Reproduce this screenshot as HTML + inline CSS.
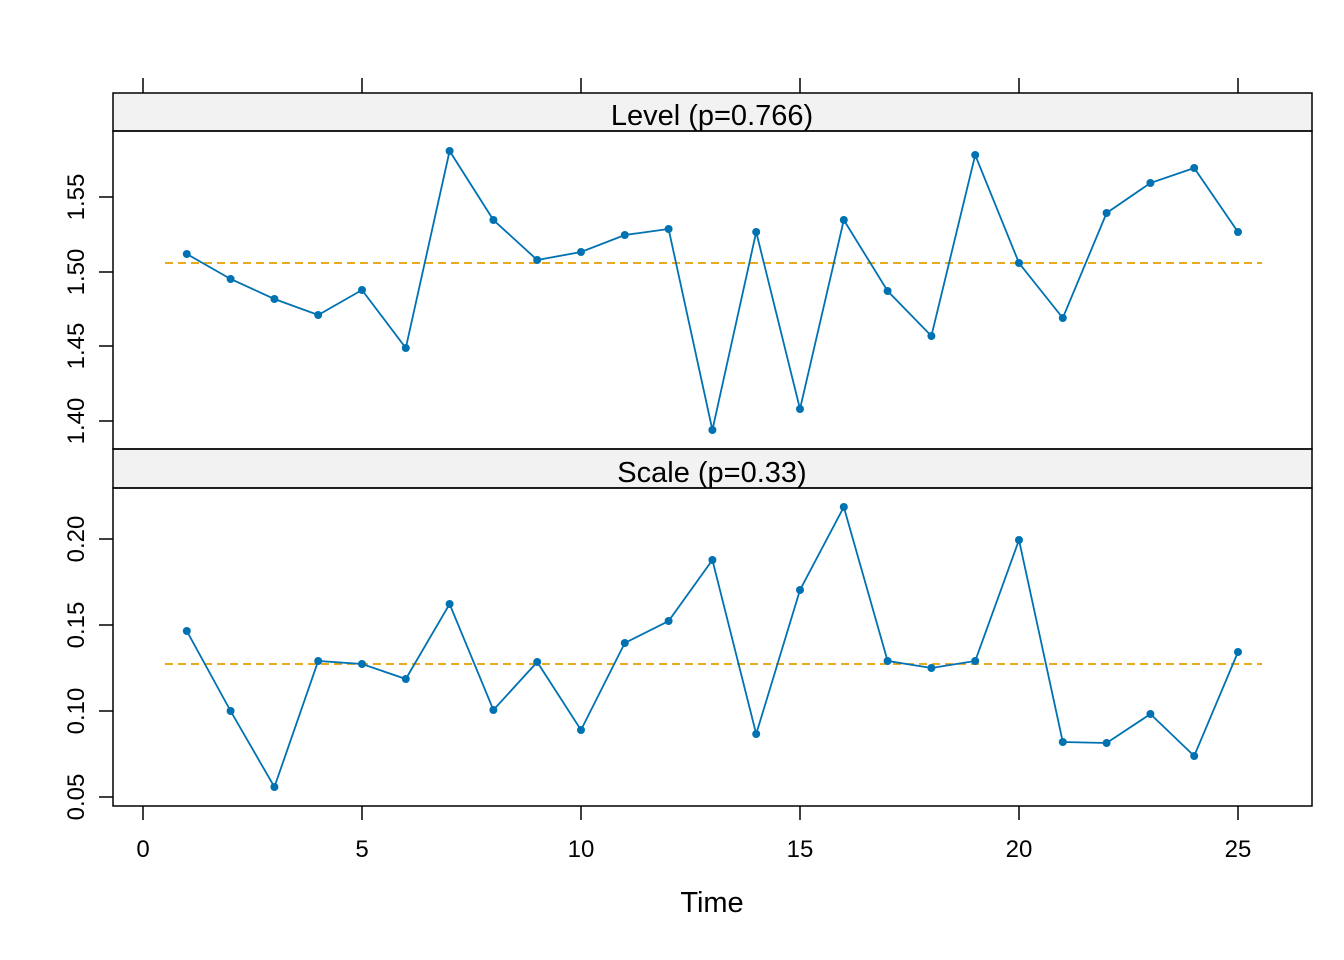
<!DOCTYPE html>
<html><head><style>body{margin:0;background:#fff}svg{display:block}text{font-family:"Liberation Sans",Arial,sans-serif;fill:#000}</style></head>
<body>
<svg width="1344" height="960" viewBox="0 0 1344 960">
<rect width="1344" height="960" fill="#fff"/>
<!-- strips -->
<rect x="113" y="93" width="1199" height="38" fill="#f2f2f2" stroke="#000" stroke-width="1.5"/>
<rect x="113" y="449" width="1199" height="39" fill="#f2f2f2" stroke="#000" stroke-width="1.5"/>
<text x="712" y="125" font-size="29" text-anchor="middle">Level (p=0.766)</text>
<text x="712" y="482" font-size="29" text-anchor="middle">Scale (p=0.33)</text>
<rect x="113" y="131" width="1199" height="318" fill="none" stroke="#000" stroke-width="1.5"/>
<rect x="113" y="488" width="1199" height="318" fill="none" stroke="#000" stroke-width="1.5"/>
<!-- top ticks -->
<g stroke="#000" stroke-width="1.5">
<line x1="143" y1="78" x2="143" y2="93"/><line x1="362" y1="78" x2="362" y2="93"/><line x1="581" y1="78" x2="581" y2="93"/><line x1="800" y1="78" x2="800" y2="93"/><line x1="1019" y1="78" x2="1019" y2="93"/><line x1="1238" y1="78" x2="1238" y2="93"/>
<line x1="143" y1="806" x2="143" y2="820"/><line x1="362" y1="806" x2="362" y2="820"/><line x1="581" y1="806" x2="581" y2="820"/><line x1="800" y1="806" x2="800" y2="820"/><line x1="1019" y1="806" x2="1019" y2="820"/><line x1="1238" y1="806" x2="1238" y2="820"/>
<line x1="99" y1="197" x2="113" y2="197"/><line x1="99" y1="272" x2="113" y2="272"/><line x1="99" y1="346" x2="113" y2="346"/><line x1="99" y1="421" x2="113" y2="421"/>
<line x1="99" y1="539" x2="113" y2="539"/><line x1="99" y1="625" x2="113" y2="625"/><line x1="99" y1="711" x2="113" y2="711"/><line x1="99" y1="797" x2="113" y2="797"/>
</g>
<g font-size="24" text-anchor="middle">
<text x="143" y="857">0</text><text x="362" y="857">5</text><text x="581" y="857">10</text><text x="800" y="857">15</text><text x="1019" y="857">20</text><text x="1238" y="857">25</text>
<text transform="translate(84,197) rotate(-90)">1.55</text>
<text transform="translate(84,272) rotate(-90)">1.50</text>
<text transform="translate(84,346) rotate(-90)">1.45</text>
<text transform="translate(84,421) rotate(-90)">1.40</text>
<text transform="translate(84,539) rotate(-90)">0.20</text>
<text transform="translate(84,625) rotate(-90)">0.15</text>
<text transform="translate(84,711) rotate(-90)">0.10</text>
<text transform="translate(84,797) rotate(-90)">0.05</text>
</g>
<text x="712" y="912" font-size="29" text-anchor="middle">Time</text>
<line x1="165" y1="263" x2="1262" y2="263" stroke="#e69f00" stroke-width="1.8" stroke-dasharray="8,5"/>
<line x1="165" y1="664" x2="1262" y2="664" stroke="#e69f00" stroke-width="1.8" stroke-dasharray="8,5"/>
<polyline fill="none" stroke="#0072b2" stroke-width="1.8" points="186.8,254 230.6,279 274.4,299 318.2,315 362,290 405.8,348 449.6,151 493.4,220 537.2,260 581,252 624.8,235 668.6,229 712.4,430 756.2,232 800,409 843.8,220 887.6,291 931.4,336 975.2,155 1019,263 1062.8,318 1106.6,213 1150.4,183 1194.2,168 1238,232"/>
<polyline fill="none" stroke="#0072b2" stroke-width="1.8" points="186.8,631 230.6,711 274.4,787 318.2,661 362,664 405.8,679 449.6,604 493.4,710 537.2,662 581,730 624.8,643 668.6,621 712.4,560 756.2,734 800,590 843.8,507 887.6,661 931.4,668 975.2,661 1019,540 1062.8,742 1106.6,743 1150.4,714 1194.2,756 1238,652"/>
<g fill="#0072b2">
<circle cx="186.8" cy="254" r="4"/><circle cx="230.6" cy="279" r="4"/><circle cx="274.4" cy="299" r="4"/><circle cx="318.2" cy="315" r="4"/><circle cx="362" cy="290" r="4"/><circle cx="405.8" cy="348" r="4"/><circle cx="449.6" cy="151" r="4"/><circle cx="493.4" cy="220" r="4"/><circle cx="537.2" cy="260" r="4"/><circle cx="581" cy="252" r="4"/><circle cx="624.8" cy="235" r="4"/><circle cx="668.6" cy="229" r="4"/><circle cx="712.4" cy="430" r="4"/><circle cx="756.2" cy="232" r="4"/><circle cx="800" cy="409" r="4"/><circle cx="843.8" cy="220" r="4"/><circle cx="887.6" cy="291" r="4"/><circle cx="931.4" cy="336" r="4"/><circle cx="975.2" cy="155" r="4"/><circle cx="1019" cy="263" r="4"/><circle cx="1062.8" cy="318" r="4"/><circle cx="1106.6" cy="213" r="4"/><circle cx="1150.4" cy="183" r="4"/><circle cx="1194.2" cy="168" r="4"/><circle cx="1238" cy="232" r="4"/>
<circle cx="186.8" cy="631" r="4"/><circle cx="230.6" cy="711" r="4"/><circle cx="274.4" cy="787" r="4"/><circle cx="318.2" cy="661" r="4"/><circle cx="362" cy="664" r="4"/><circle cx="405.8" cy="679" r="4"/><circle cx="449.6" cy="604" r="4"/><circle cx="493.4" cy="710" r="4"/><circle cx="537.2" cy="662" r="4"/><circle cx="581" cy="730" r="4"/><circle cx="624.8" cy="643" r="4"/><circle cx="668.6" cy="621" r="4"/><circle cx="712.4" cy="560" r="4"/><circle cx="756.2" cy="734" r="4"/><circle cx="800" cy="590" r="4"/><circle cx="843.8" cy="507" r="4"/><circle cx="887.6" cy="661" r="4"/><circle cx="931.4" cy="668" r="4"/><circle cx="975.2" cy="661" r="4"/><circle cx="1019" cy="540" r="4"/><circle cx="1062.8" cy="742" r="4"/><circle cx="1106.6" cy="743" r="4"/><circle cx="1150.4" cy="714" r="4"/><circle cx="1194.2" cy="756" r="4"/><circle cx="1238" cy="652" r="4"/>
</g>
</svg>
</body></html>
